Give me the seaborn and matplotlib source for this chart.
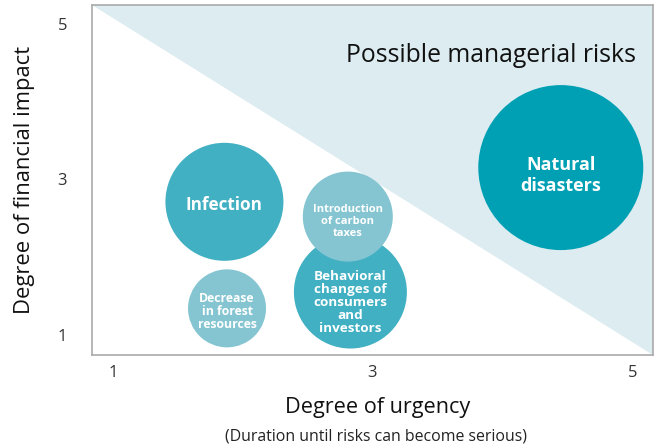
import matplotlib
matplotlib.use("Agg")
import matplotlib.pyplot as plt
import seaborn as sns
import pandas as pd

# bubble data (drawing order = stacking order)
risks = ["Infection", "Decrease\nin forest\nresources",
         "Behavioral\nchanges of\nconsumers\nand\ninvestors", "Introduction\nof carbon\ntaxes",
         "Natural\ndisasters"]
urgency = [1.86, 1.88, 2.83, 2.81, 4.45]
impact = [2.71, 1.34, 1.55, 2.52, 3.15]
diam_px = [118, 78, 113, 90, 165]
colors = ["#41B0C3", "#85C5D2", "#41B0C3", "#85C5D2", "#00A0B4"]

# label styling inside the bubbles
label_size = [12.3, 8.8, 9.7, 8.0, 13]
label_spacing = [1.0, 1.03, 1.0, 1.1, 1.25]
label_drop = [3, 3, 10, 5, 8]  # px below bubble centre

df = pd.DataFrame({"risk": risks, "urgency": urgency, "impact": impact})
df["area"] = [(d * 0.72) ** 2 for d in diam_px]

sns.set_style("white")
plt.rcParams["font.family"] = ["Open Sans", "DejaVu Sans"]

fig = plt.figure(figsize=(6.56, 4.45), dpi=100)
ax = fig.add_axes([0.1402, 0.2022, 0.8552, 0.7865])

# shaded upper-right triangle
ax.fill([0, 1, 1], [1, 1, 0], transform=ax.transAxes, color="#DCECF0", zorder=0, lw=0)

sns.scatterplot(data=df, x="urgency", y="impact", hue="risk", palette=dict(zip(risks, colors)),
                size="risk", sizes=dict(zip(risks, df["area"])), legend=False,
                linewidth=0, alpha=1, ax=ax, zorder=2)

for r, x, y, fs, ls, dy in zip(risks, urgency, impact, label_size, label_spacing, label_drop):
    ax.annotate(r, (x, y), xytext=(0, -dy * 0.72), textcoords="offset points",
                color="white", fontsize=fs, fontweight="bold", ha="center", va="center",
                linespacing=ls, zorder=3)

ax.text(0.97, 0.855, "Possible managerial risks", transform=ax.transAxes, ha="right",
        va="center", fontsize=17.8, color="#111111")

ax.set_xlim(0.84, 5.16)
ax.set_ylim(0.74, 5.24)
ax.set_xticks([1, 3, 5])
ax.set_yticks([1, 3, 5])
ax.tick_params(axis="x", length=0, pad=7, labelsize=12, labelcolor="#333333")
ax.tick_params(axis="y", length=0, pad=18, labelsize=12, labelcolor="#333333")
for s in ax.spines.values():
    s.set_color("#AAAAAA")
    s.set_linewidth(1.2)

ax.set_xlabel("")
ax.set_ylabel("Degree of financial impact", fontsize=15.8, color="#111111")
ax.yaxis.set_label_coords(-0.101, 0.5)
fig.text(0.575, 0.085, "Degree of urgency", ha="center", va="center", fontsize=15.6, color="#111111")
fig.text(0.573, 0.02, "(Duration until risks can become serious)", ha="center", va="center",
         fontsize=11.4, color="#222222")

fig.savefig("out.png", dpi=100)
